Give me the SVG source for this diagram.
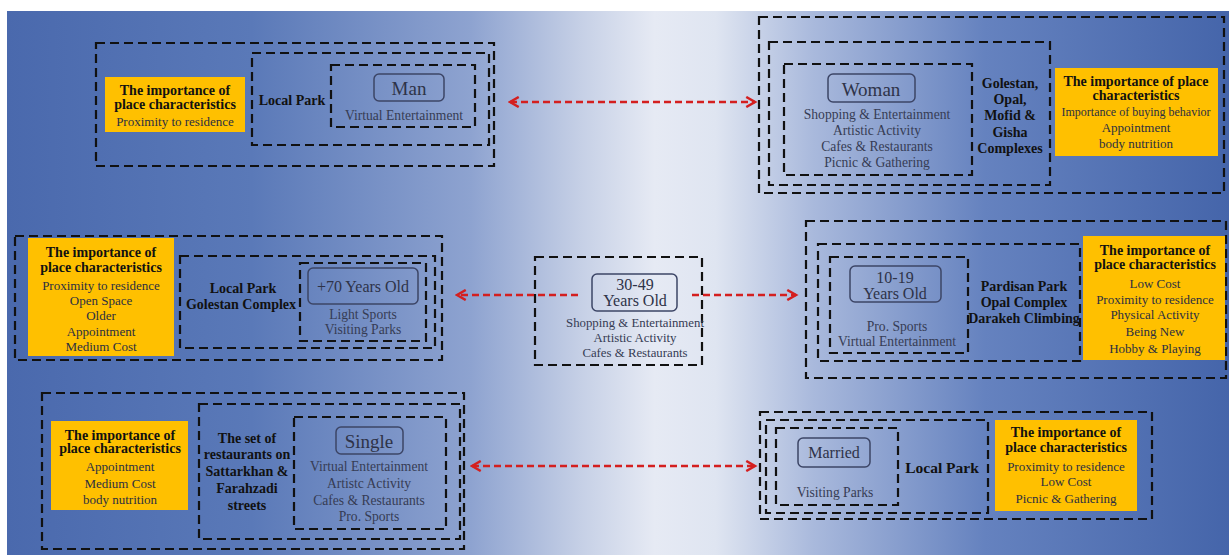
<svg xmlns="http://www.w3.org/2000/svg" width="1229" height="555" viewBox="0 0 1229 555">
  <defs>
    <linearGradient id="bg" x1="0" y1="0" x2="1" y2="0">
      <stop offset="0" stop-color="#4a69ad"/>
      <stop offset="0.2" stop-color="#5a79b8"/>
      <stop offset="0.38" stop-color="#8ea3d0"/>
      <stop offset="0.47" stop-color="#c6d0e6"/>
      <stop offset="0.53" stop-color="#e6eaf4"/>
      <stop offset="0.58" stop-color="#dfe5f1"/>
      <stop offset="0.66" stop-color="#a9b9dc"/>
      <stop offset="0.8" stop-color="#6582bf"/>
      <stop offset="1" stop-color="#4565aa"/>
    </linearGradient>
    <marker id="head" viewBox="0 0 10 10" refX="8" refY="5" markerWidth="5" markerHeight="5" orient="auto-start-reverse" markerUnits="strokeWidth">
      <path d="M1,1 L8,5 L1,9" fill="none" stroke="#d41f1f" stroke-width="2"/>
    </marker>
    <style>
      .dash { fill: none; stroke: #111; stroke-width: 2.2; stroke-dasharray: 9 5; }
      .tag { fill: none; stroke: #3c4566; stroke-width: 1.5; }
      .note { fill: #ffc000; }
      .t { font-family: "Liberation Serif", "Times New Roman", serif; text-anchor: middle; }
      .b { font-weight: bold; fill: #111; font-size: 14px; }
      .n { fill: #2b2f40; font-size: 13px; }
      .g { fill: #363c54; font-size: 13.6px; }
      .big { fill: #2e3348; font-size: 19px; }
      .mid { fill: #2e3348; font-size: 16px; }
      .link { fill: none; stroke: #d41f1f; stroke-width: 2.5; stroke-dasharray: 7 4; marker-start: url(#head); marker-end: url(#head); }
      .one { fill: none; stroke: #d41f1f; stroke-width: 2.5; stroke-dasharray: 7 4; marker-end: url(#head); }
    </style>
  </defs>

  <rect x="0" y="0" width="1229" height="555" fill="#ffffff"/>
  <rect x="7" y="11" width="1222" height="544" fill="url(#bg)"/>

  <!-- Man -->
  <g id="man">
    <rect class="dash" x="96" y="43" width="398" height="123"/>
    <rect class="dash" x="252" y="53" width="237" height="92"/>
    <rect class="dash" x="331" y="65" width="144" height="62"/>
    <rect class="note" x="105" y="77" width="140" height="55"/>
    <text class="t b" x="175" y="95">The importance of</text>
    <text class="t b" x="175" y="109">place characteristics</text>
    <text class="t n" x="175" y="126">Proximity to residence</text>
    <text class="t b" x="292" y="105">Local Park</text>
    <rect class="tag" x="374" y="74" width="70" height="27" rx="5"/>
    <text class="t big" x="409" y="95">Man</text>
    <text class="t g" x="404" y="120">Virtual Entertainment</text>
  </g>

  <!-- Woman -->
  <g id="woman">
    <rect class="dash" x="759" y="17" width="465" height="176"/>
    <rect class="dash" x="769" y="42" width="281" height="143"/>
    <rect class="dash" x="784" y="64" width="188" height="111"/>
    <rect class="note" x="1055" y="68" width="163" height="88"/>
    <text class="t b" x="1136" y="86">The importance of place</text>
    <text class="t b" x="1136" y="100">characteristics</text>
    <text class="t n" x="1136" y="116" style="font-size:12px">Importance of buying behavior</text>
    <text class="t n" x="1136" y="132">Appointment</text>
    <text class="t n" x="1136" y="148">body nutrition</text>
    <text class="t b" x="1010" y="88">Golestan,</text>
    <text class="t b" x="1010" y="104">Opal,</text>
    <text class="t b" x="1010" y="120">Mofid &amp;</text>
    <text class="t b" x="1010" y="137">Gisha</text>
    <text class="t b" x="1010" y="153">Complexes</text>
    <rect class="tag" x="828" y="74" width="87" height="28" rx="5"/>
    <text class="t big" x="871" y="96">Woman</text>
    <text class="t g" x="877" y="119">Shopping &amp; Entertainment</text>
    <text class="t g" x="877" y="135">Artistic Activity</text>
    <text class="t g" x="877" y="151">Cafes &amp; Restaurants</text>
    <text class="t g" x="877" y="167">Picnic &amp; Gathering</text>
  </g>

  <!-- +70 Years Old -->
  <g id="age70">
    <rect class="dash" x="15" y="236" width="427" height="124"/>
    <rect class="dash" x="180" y="256" width="255" height="92"/>
    <rect class="dash" x="300" y="263" width="126" height="78"/>
    <rect class="note" x="28" y="238" width="146" height="118"/>
    <text class="t b" x="101" y="257">The importance of</text>
    <text class="t b" x="101" y="272">place characteristics</text>
    <text class="t n" x="101" y="290">Proximity to residence</text>
    <text class="t n" x="101" y="305">Open Space</text>
    <text class="t n" x="101" y="320">Older</text>
    <text class="t n" x="101" y="336">Appointment</text>
    <text class="t n" x="101" y="351">Medium Cost</text>
    <text class="t b" x="243" y="293">Local Park</text>
    <text class="t b" x="241" y="309">Golestan Complex</text>
    <rect class="tag" x="308" y="268" width="110" height="36" rx="5"/>
    <text class="t mid" x="363" y="292">+70 Years Old</text>
    <text class="t g" x="363" y="319">Light Sports</text>
    <text class="t g" x="363" y="334">Visiting Parks</text>
  </g>

  <!-- 30-49 Years Old -->
  <g id="age30">
    <rect class="dash" x="535" y="257" width="167" height="108"/>
    <rect class="tag" x="592" y="274" width="85" height="37" rx="5"/>
    <text class="t mid" x="635" y="290">30-49</text>
    <text class="t mid" x="635" y="306">Years Old</text>
    <text class="t g" x="635" y="327" style="font-size:12.8px">Shopping &amp; Entertainment</text>
    <text class="t g" x="635" y="342" style="font-size:12.8px">Artistic Activity</text>
    <text class="t g" x="635" y="357" style="font-size:12.8px">Cafes &amp; Restaurants</text>
  </g>

  <!-- 10-19 Years Old -->
  <g id="age10">
    <rect class="dash" x="806" y="221" width="420" height="157"/>
    <rect class="dash" x="818" y="244" width="262" height="117"/>
    <rect class="dash" x="830" y="257" width="138" height="96"/>
    <rect class="note" x="1083" y="236" width="142" height="124"/>
    <text class="t b" x="1155" y="255">The importance of</text>
    <text class="t b" x="1155" y="269">place characteristics</text>
    <text class="t n" x="1155" y="288">Low Cost</text>
    <text class="t n" x="1155" y="304">Proximity to residence</text>
    <text class="t n" x="1155" y="319">Physical Activity</text>
    <text class="t n" x="1155" y="336">Being New</text>
    <text class="t n" x="1155" y="353">Hobby &amp; Playing</text>
    <text class="t b" x="1024" y="291">Pardisan Park</text>
    <text class="t b" x="1024" y="307">Opal Complex</text>
    <text class="t b" x="1024" y="323">Darakeh Climbing</text>
    <rect class="tag" x="850" y="266" width="91" height="36" rx="5"/>
    <text class="t mid" x="895" y="283">10-19</text>
    <text class="t mid" x="895" y="299">Years Old</text>
    <text class="t g" x="897" y="331">Pro. Sports</text>
    <text class="t g" x="897" y="346">Virtual Entertainment</text>
  </g>

  <!-- Single -->
  <g id="single">
    <rect class="dash" x="42" y="393" width="422" height="156"/>
    <rect class="dash" x="199" y="404" width="261" height="135"/>
    <rect class="dash" x="294" y="417" width="152" height="112"/>
    <rect class="note" x="51" y="421" width="137" height="89"/>
    <text class="t b" x="120" y="440">The importance of</text>
    <text class="t b" x="120" y="453">place characteristics</text>
    <text class="t n" x="120" y="471">Appointment</text>
    <text class="t n" x="120" y="488">Medium Cost</text>
    <text class="t n" x="120" y="504">body nutrition</text>
    <text class="t b" x="247" y="443">The set of</text>
    <text class="t b" x="247" y="459">restaurants on</text>
    <text class="t b" x="247" y="476">Sattarkhan &amp;</text>
    <text class="t b" x="247" y="493">Farahzadi</text>
    <text class="t b" x="247" y="510">streets</text>
    <rect class="tag" x="336" y="427" width="67" height="27" rx="5"/>
    <text class="t big" x="369" y="448">Single</text>
    <text class="t g" x="369" y="471">Virtual Entertainment</text>
    <text class="t g" x="369" y="488">Artistc Activity</text>
    <text class="t g" x="369" y="505">Cafes &amp; Restaurants</text>
    <text class="t g" x="369" y="521">Pro. Sports</text>
  </g>

  <!-- Married -->
  <g id="married">
    <rect class="dash" x="760" y="412" width="392" height="107"/>
    <rect class="dash" x="766" y="420" width="222" height="93"/>
    <rect class="dash" x="776" y="428" width="122" height="77"/>
    <rect class="note" x="995" y="420" width="142" height="91"/>
    <text class="t b" x="1066" y="437">The importance of</text>
    <text class="t b" x="1066" y="452">place characteristics</text>
    <text class="t n" x="1066" y="471">Proximity to residence</text>
    <text class="t n" x="1066" y="486">Low Cost</text>
    <text class="t n" x="1066" y="503">Picnic &amp; Gathering</text>
    <text class="t b" x="942" y="473" style="font-size:15.5px">Local Park</text>
    <rect class="tag" x="798" y="438" width="72" height="29" rx="5"/>
    <text class="t mid" x="834" y="458">Married</text>
    <text class="t g" x="835" y="497">Visiting Parks</text>
  </g>

  <!-- connectors -->
  <g id="connectors">
    <line class="link" x1="510" y1="102" x2="755" y2="102"/>
    <line class="one" x1="578" y1="295" x2="457" y2="295"/>
    <line class="one" x1="692" y1="295" x2="796" y2="295"/>
    <line class="link" x1="472" y1="466" x2="755" y2="466"/>
  </g>
</svg>
